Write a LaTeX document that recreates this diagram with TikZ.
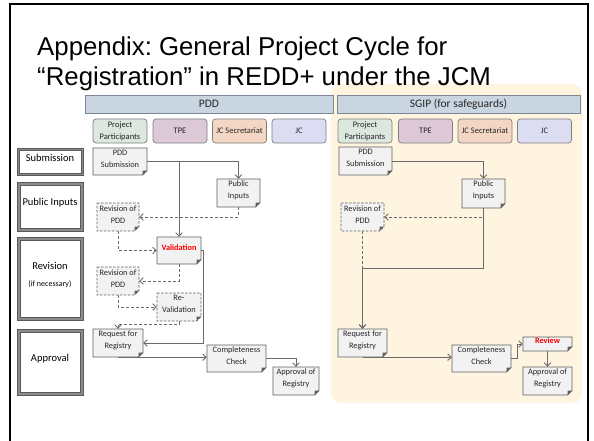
\documentclass[tikz,border=0pt]{standalone}
\usepackage{fontspec}
\setmainfont{Carlito}
\newfontfamily\titlefont{Liberation Sans}
\usetikzlibrary{arrows.meta,fit}
\frenchspacing

\definecolor{barfill}{HTML}{C9D5E1}
\definecolor{barline}{HTML}{7B8794}
\definecolor{ppfill}{HTML}{DCE7DE}
\definecolor{tpefill}{HTML}{DCC8D6}
\definecolor{secfill}{HTML}{F4D6C4}
\definecolor{jcfill}{HTML}{DCDCF2}
\definecolor{roleline}{HTML}{7F7F7F}
\definecolor{sgipbg}{HTML}{FFF4DF}
\definecolor{procfill}{HTML}{F2F2F2}
\definecolor{procline}{HTML}{5F5F5F}
\definecolor{flowc}{HTML}{6B6B6B}
\definecolor{stageband}{HTML}{8C8C8C}
\definecolor{stageline}{HTML}{5A5A5A}
\definecolor{txt}{HTML}{262626}

\tikzset{
  titletext/.style={anchor=base west, inner sep=0pt, font=\titlefont\fontsize{25.8}{29}\selectfont},
  bar/.style={draw=barline, fill=barfill, line width=0.7pt, inner sep=0pt,
    font=\fontsize{11.5}{13}\selectfont, text=txt},
  role/.style={draw=roleline, line width=0.7pt, rounded corners=3pt, inner sep=0pt,
    minimum width=54pt, minimum height=24pt, align=center,
    font=\fontsize{8.5}{12}\selectfont, text=txt},
  procshape/.style={fill=procfill, draw=procline, line width=0.8pt},
  dashedbox/.style={dash pattern=on 2.5pt off 1.5pt},
  proctext/.style={inner sep=0pt, align=center, font=\fontsize{8.3}{12}\selectfont, text=txt},
  stagetext/.style={inner sep=0pt, align=center, font=\fontsize{10.5}{12}\selectfont, text=black},
  flow/.style={draw=flowc, line width=0.9pt, -{Straight Barb[length=3.5pt,width=6.5pt]}},
  flowd/.style={flow, dash pattern=on 3pt off 2pt},
}

% process box with a folded bottom-right corner
\newcommand\procbox[5][]{%
  \coordinate (#2-a) at (#3);
  \coordinate (#2-b) at (#4);
  \path[procshape,#1] (#2-a) -- (#2-a -| #2-b) -- ([yshift=4.5pt]#2-b)
     -- ([xshift=-4.5pt]#2-b) -- (#2-a |- #2-b) -- cycle;
  \fill[procline] ([yshift=4.5pt]#2-b) -- ([xshift=-4.5pt]#2-b)
     -- ([xshift=-4.5pt,yshift=4.5pt]#2-b) -- cycle;
  \node[proctext, fit=(#2-a)(#2-b)] (#2) {#5};
}

% stage label with a double gray frame
\newcommand\stagebox[5][3pt]{%
  \coordinate (#2-a) at (#3);
  \coordinate (#2-b) at (#4);
  \filldraw[fill=stageband, draw=stageline, line width=0.5pt] (#2-a) rectangle (#2-b);
  \filldraw[fill=white, draw=stageline, line width=0.5pt]
     ([xshift=#1,yshift=-#1]#2-a) rectangle ([xshift=-#1,yshift=#1]#2-b);
  \node[stagetext, fit=(#2-a)(#2-b)] (#2) {#5};
}

\begin{document}
\begin{tikzpicture}[x=1pt, y=-1pt]
\useasboundingbox (0,0) rectangle (594,441);
\fill[white] (0,0) rectangle (594,441);

% slide frame
\draw[line width=2pt] (10,442) -- (10,4) -- (588,4) -- (588,442);

% safeguards panel background
\fill[sgipbg, rounded corners=10pt] (331,84) rectangle (582,403);

% title
\node[titletext] (title1) at (37,56) {Appendix: General Project Cycle for};
\node[titletext] (title2) at (37,86) {“Registration” in REDD+ under the JCM};

% header bars
\node[bar, minimum width=248pt, minimum height=18pt] (hpdd) at (209,104) {PDD};
\node[bar, minimum width=243pt, minimum height=18pt] (hsgip) at (458.5,104) {SGIP (for safeguards)};

% roles
\node[role, fill=ppfill]  (pp1)  at (120,131) {Project\\Participants};
\node[role, fill=tpefill] (tpe1) at (180,131) {TPE};
\node[role, fill=secfill] (sec1) at (239.5,131) {JC Secretariat};
\node[role, fill=jcfill]  (jc1)  at (299,131) {JC};
\node[role, fill=ppfill]  (pp2)  at (365,131) {Project\\Participants};
\node[role, fill=tpefill] (tpe2) at (425.5,131) {TPE};
\node[role, fill=secfill] (sec2) at (485,131) {JC Secretariat};
\node[role, fill=jcfill]  (jc2)  at (544.5,131) {JC};

% stages
\stagebox[2pt]{stsub}{17,148}{83,175}{Submission}
\stagebox{stpub}{17,182}{83,231}{Public Inputs}
\stagebox{strev}{17,237}{83,320}{Revision\\[5pt]{\fontsize{8}{10}\selectfont(if necessary)}}
\stagebox{stapp}{17,329}{83,395}{Approval}

% PDD track
\procbox{ps1}{93,148}{147,175}{PDD\\Submission}
\procbox{pi1}{217,179}{260,207}{Public\\Inputs}
\procbox[dashedbox]{rva}{97,203}{139,231}{Revision of\\PDD}
\procbox{val}{157,237}{201,264}{\textcolor{red}{\bfseries Validation}}
\procbox[dashedbox]{rvb}{97,267}{139,295}{Revision of\\PDD}
\procbox[dashedbox]{reval}{157,293}{201,321}{Re-\\Validation}
\procbox{req1}{93,329}{143,357}{Request for\\Registry}
\procbox{cc1}{207,345}{266,372}{Completeness\\Check}
\procbox{ap1}{273,367}{319,395}{Approval of\\Registry}

\draw[flow] (ps1.east) -| (pi1.north);
\draw[flow] (ps1.east) -| (val.north);
\draw[flowd] (pi1.south) |- (rva.east);
\draw[flowd] (rva.south) |- (val.west);
\draw[flowd] (val.south) |- (rvb.east);
\draw[flowd] (rvb.south) |- (reval.west);
\draw[flowd] (reval.south) -- ([yshift=-3pt]reval.south) -| (req1.north);
\draw[flow] (val.east) -- ([xshift=2.5pt]val.east) |- (req1.east);
\draw[flow] (req1.south) -- (req1.south -| cc1.west);
\draw[flow] (cc1.east) -| (ap1.north);

% SGIP track
\procbox{ps2}{339,147}{392,175}{PDD\\Submission}
\procbox{pi2}{462,179}{505,208}{Public\\Inputs}
\procbox[dashedbox]{rv2}{341,203}{384,231}{Revision of\\PDD}
\procbox{req2}{338,329}{387,357}{Request for\\Registry}
\procbox{cc2}{452,345}{511,372}{Completeness\\Check}
\procbox{rev2}{523,337}{572,351}{\textcolor{red}{\bfseries Review}}
\procbox{ap2}{523,367}{572,395}{Approval of\\Registry}

\draw[flow] (ps2.east) -| (pi2.north);
\draw[flowd] (pi2.south) |- (rv2.east);
\draw[flow] (pi2.south) -- ([yshift=-60pt]pi2.south) -| (req2.north);
\draw[flowd] (rv2.south) -- (req2.north);
\draw[flow] (req2.south) -- (req2.south -| cc2.west);
\draw[flow] (cc2.east) -- ([xshift=6pt]cc2.east) |- (rev2.west);
\draw[flow] (rev2.south) -- (ap2.north);
\end{tikzpicture}
\end{document}
